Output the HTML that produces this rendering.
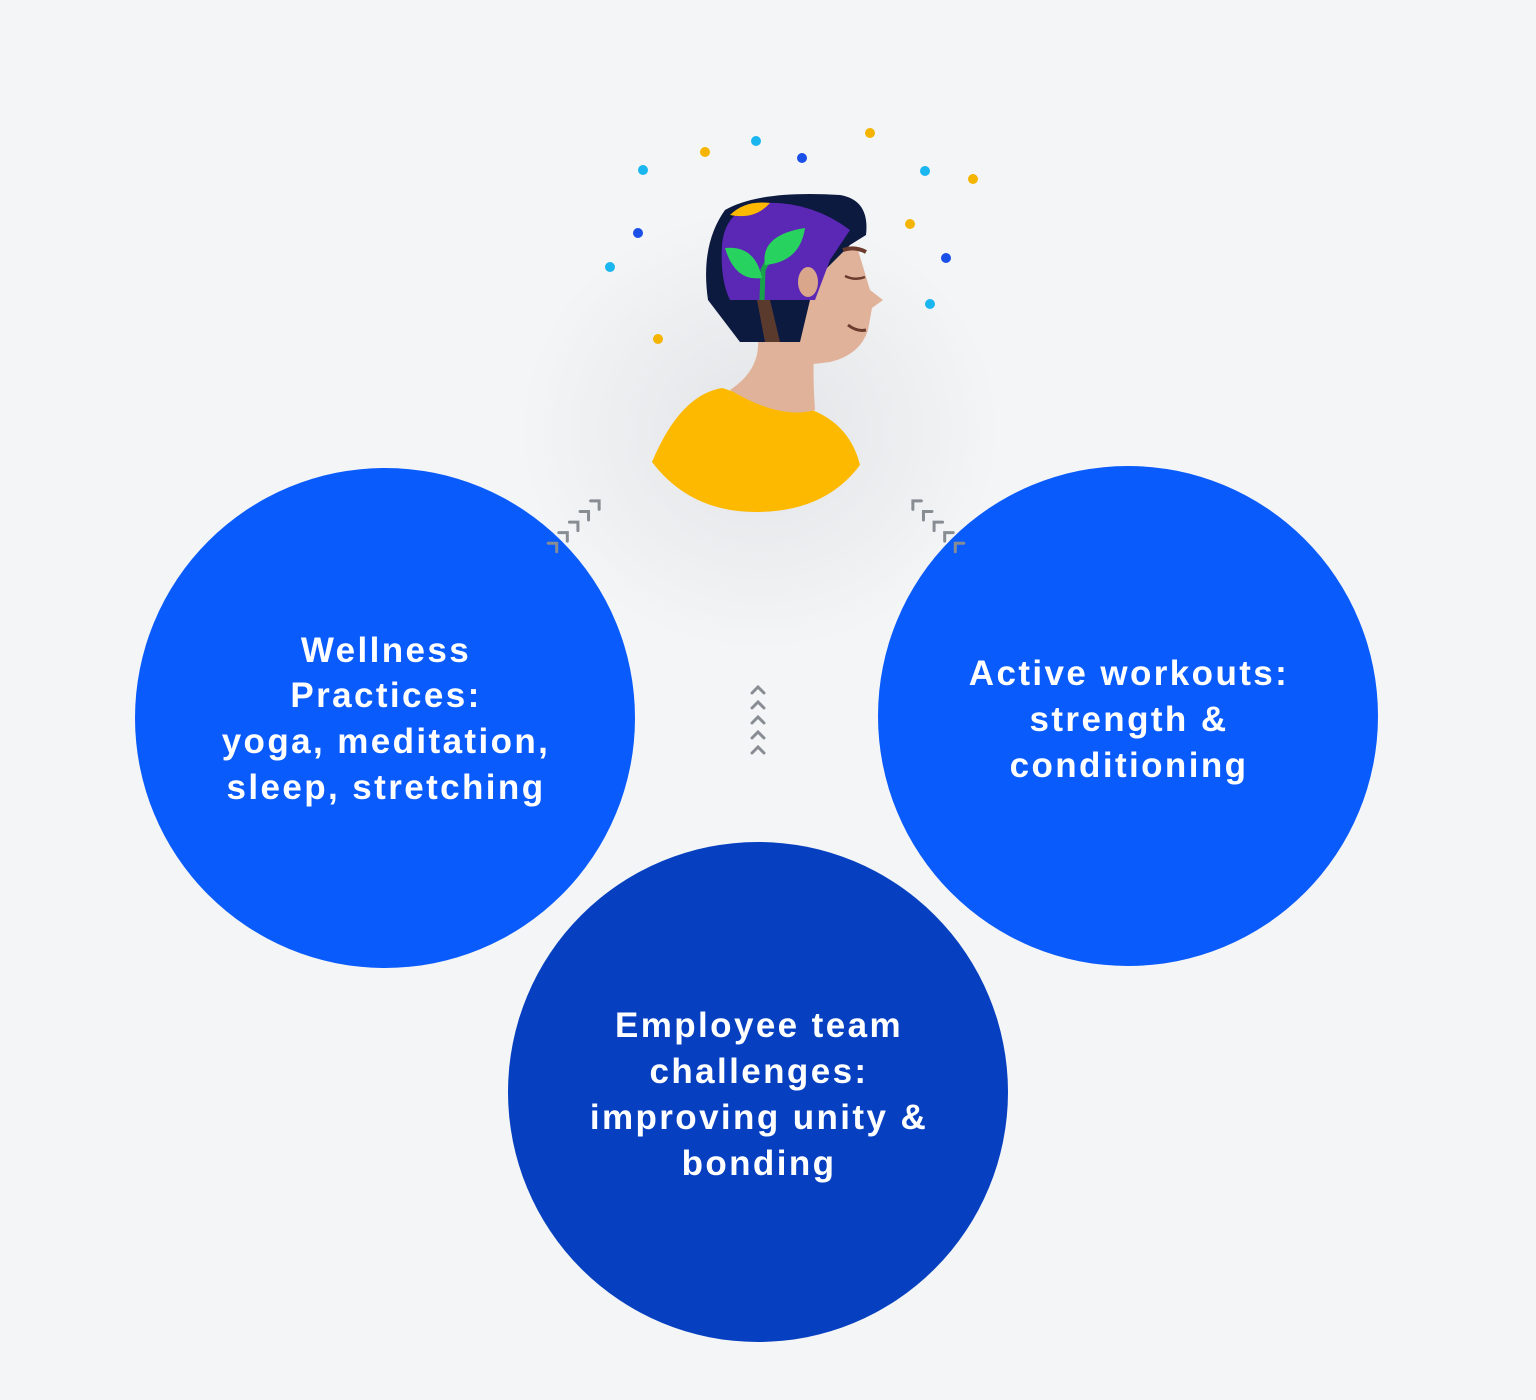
<!DOCTYPE html>
<html><head><meta charset="utf-8"><style>
html,body{margin:0;padding:0;background:#f3f5f7;}
svg{display:block}
text{font-family:"Liberation Sans",sans-serif;font-weight:bold;fill:#fff;font-size:35px;letter-spacing:2.4px;text-anchor:middle;}
</style></head><body>
<svg width="1536" height="1400" viewBox="0 0 1536 1400" xmlns="http://www.w3.org/2000/svg">
<defs>
<radialGradient id="glow" cx="0.5" cy="0.5" r="0.5">
<stop offset="0" stop-color="#e2e4e7"/><stop offset="0.6" stop-color="#eceef0"/><stop offset="1" stop-color="#f3f5f7"/>
</radialGradient>
</defs>
<rect width="1536" height="1400" fill="#f3f5f7"/>
<ellipse cx="760" cy="430" rx="240" ry="220" fill="url(#glow)"/>
<g fill="#f5b400"><circle cx="705" cy="152" r="5"/><circle cx="870" cy="133" r="5"/><circle cx="973" cy="179" r="5"/><circle cx="910" cy="224" r="5"/><circle cx="658" cy="339" r="5"/></g>
<g fill="#1ab6f0"><circle cx="756" cy="141" r="5"/><circle cx="643" cy="170" r="5"/><circle cx="925" cy="171" r="5"/><circle cx="610" cy="267" r="5"/><circle cx="930" cy="304" r="5"/></g>
<g fill="#1a4fe8"><circle cx="802" cy="158" r="5"/><circle cx="638" cy="233" r="5"/><circle cx="946" cy="258" r="5"/></g>
<path d="M652,462 Q680,395 722,388 L760,400 L812,410 Q850,425 860,465 Q825,512 756,512 Q690,512 652,462Z" fill="#fdb900"/>
<path d="M730,390 Q760,370 758,340 L815,335 Q812,370 815,410 Q780,420 730,390Z" fill="#e0b29a"/>
<path d="M800,255 Q830,235 858,250 L870,290 L883,300 L872,308 L868,330 Q860,355 830,362 L805,365 L800,340Z" fill="#e0b29a"/>
<path d="M740,342 L708,300 Q700,245 725,210 Q760,190 840,195 Q870,200 866,235 L850,245 L825,270 L810,300 L800,342Z" fill="#0d1a40"/>
<path d="M722,245 Q725,210 760,203 Q810,200 850,230 L830,260 L815,300 L730,300 Q720,280 722,245Z" fill="#5b27b5"/>
<path d="M730,215 Q745,200 770,203 Q755,220 730,215Z" fill="#fdb900"/>
<path d="M757,300 L770,300 L780,342 L765,342Z" fill="#5b3a2e"/>
<path d="M762,300 L763,270 Q770,255 785,240" stroke="#18a34a" stroke-width="5" fill="none"/>
<path d="M765,265 Q760,235 805,228 Q800,262 765,265Z" fill="#27d35e"/>
<path d="M762,278 Q735,282 725,248 Q755,245 762,278Z" fill="#27d35e"/>
<ellipse cx="808" cy="282" rx="10" ry="15" fill="#d9a68c"/>
<path d="M843,250 Q855,246 866,252" stroke="#6b3b2e" stroke-width="4" fill="none"/>
<path d="M845,276 Q855,281 865,277" stroke="#6b3b2e" stroke-width="2.5" fill="none"/>
<path d="M848,325 Q857,332 866,330" stroke="#6b3b2e" stroke-width="3" fill="none"/>
<circle cx="385" cy="718" r="250" fill="#0a5bfb"/>
<circle cx="1128" cy="716" r="250" fill="#0a5bfb"/>
<circle cx="758" cy="1092" r="250" fill="#0640c0"/>
<g stroke="#888d94" stroke-width="3" fill="none" stroke-linecap="round">
<g transform="translate(758,688)"><path d="M-6,5 L0,-1 L6,5"/><path d="M-6,20 L0,14 L6,20"/><path d="M-6,35 L0,29 L6,35"/><path d="M-6,50 L0,44 L6,50"/><path d="M-6,65 L0,59 L6,65"/></g>
<g transform="translate(556,544) rotate(45)"><path d="M-6,5 L0,-1 L6,5"/><path d="M-6,-10 L0,-16 L6,-10"/><path d="M-6,-25 L0,-31 L6,-25"/><path d="M-6,-40 L0,-46 L6,-40"/><path d="M-6,-55 L0,-61 L6,-55"/></g>
<g transform="translate(956,544) rotate(-45)"><path d="M-6,5 L0,-1 L6,5"/><path d="M-6,-10 L0,-16 L6,-10"/><path d="M-6,-25 L0,-31 L6,-25"/><path d="M-6,-40 L0,-46 L6,-40"/><path d="M-6,-55 L0,-61 L6,-55"/></g>
</g>
<text x="386" y="662">Wellness</text>
<text x="386" y="707">Practices:</text>
<text x="386" y="753">yoga, meditation,</text>
<text x="386" y="799">sleep, stretching</text>
<text x="1129" y="685">Active workouts:</text>
<text x="1129" y="731">strength &amp;</text>
<text x="1129" y="777">conditioning</text>
<text x="759" y="1037">Employee team</text>
<text x="759" y="1083">challenges:</text>
<text x="759" y="1129">improving unity &amp;</text>
<text x="759" y="1175">bonding</text>
</svg>
</body></html>
